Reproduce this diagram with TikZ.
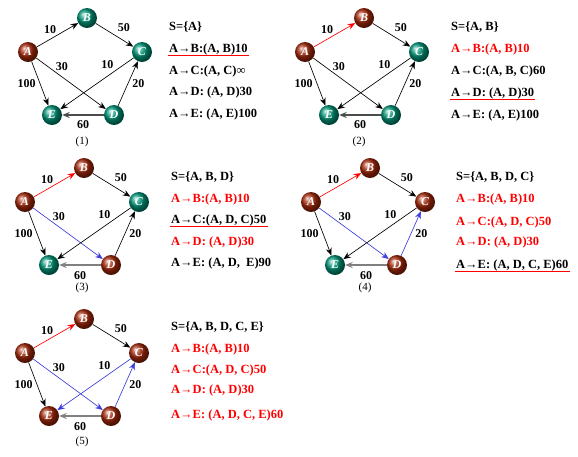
\documentclass[tikz,border=0pt]{standalone}
\usepackage{fontspec}
\setmainfont{Liberation Serif}
\usetikzlibrary{arrows.meta,shadings}
\definecolor{dijkTeal}{RGB}{0,150,120}
\definecolor{dijkRust}{RGB}{165,40,10}
\definecolor{dijkRed}{RGB}{255,0,0}
\definecolor{dijkBlue}{RGB}{60,60,220}
\colorlet{donegray}{black!50}

\begin{document}
\begin{tikzpicture}[x=1pt,y=-1pt,
  vtx/.style={circle,minimum size=20pt,inner sep=0pt,text=white,font=\fontsize{12}{12}\selectfont\bfseries\itshape},
  open/.style={vtx,shading=ball,ball color=dijkTeal},
  done/.style={vtx,shading=ball,ball color=dijkRust},
  edge/.style={-{Stealth[length=7.5pt,width=6pt,inset=2.5pt]},line width=0.65pt},
  redge/.style={edge,dijkRed},
  bedge/.style={edge,dijkBlue},
  gedge/.style={edge,donegray,line width=2.2pt},
  lbl/.style={inner sep=1pt,text=black,font=\fontsize{12}{12}\selectfont\bfseries},
  txt/.style={anchor=west,inner sep=1pt,font=\fontsize{12.5}{14}\selectfont\bfseries},
  hot/.style={txt,text=dijkRed},
  uline/.style={dijkRed,line width=0.8pt},
  caption/.style={font=\fontsize{11}{12}\selectfont}
]
\useasboundingbox (0,0) rectangle (578,456);

% (1)
\begin{scope}[shift={(28,52)}]
\node[done] (a1) at (0,0) {A};
\node[open] (b1) at (59,-34) {B};
\node[open] (c1) at (114,0) {C};
\node[open] (e1) at (24,63) {E};
\node[open] (d1) at (86,63) {D};
\draw[edge] (a1) -- node[lbl,above left] {10} (b1);
\draw[edge] (b1) -- node[lbl,above right=2pt] {50} (c1);
\draw[edge] (a1) -- node[lbl,pos=0.37,above=5pt] {30} (d1);
\draw[edge] (c1) -- node[lbl,pos=0.36,above=6pt] {10} (e1);
\draw[edge] (a1) -- node[lbl,left=3pt] {100} (e1);
\draw[edge] (d1) -- node[lbl,right=3pt] {20} (c1);
\draw[edge,black!70,line width=1.6pt] (d1) -- node[lbl,below=4pt] {60} (e1);
\node[txt] (s1) at (140,-25) {S=\{A\}};
\node[txt] (ab1) at (140,-3) {A→B:(A, B)10};
\node[txt] (ac1) at (140,19) {A→C:(A, C)∞};
\node[txt] (ad1) at (140,40) {A→D: (A, D)30};
\node[txt] (ae1) at (140,62) {A→E: (A, E)100};
\draw[uline] (ab1.south west) -- (ab1.south east);
\node[caption] (n1) at (54,90) {(1)};
\end{scope}

% (2)
\begin{scope}[shift={(305,52)}]
\node[done] (a2) at (0,0) {A};
\node[done] (b2) at (59,-34) {B};
\node[open] (c2) at (114,0) {C};
\node[open] (e2) at (24,63) {E};
\node[open] (d2) at (86,63) {D};
\draw[redge] (a2) -- node[lbl,above left] {10} (b2);
\draw[edge] (b2) -- node[lbl,above right=2pt] {50} (c2);
\draw[edge] (a2) -- node[lbl,pos=0.37,above=5pt] {30} (d2);
\draw[edge] (c2) -- node[lbl,pos=0.36,above=6pt] {10} (e2);
\draw[edge] (a2) -- node[lbl,left=3pt] {100} (e2);
\draw[edge] (d2) -- node[lbl,right=3pt] {20} (c2);
\draw[edge,black!70,line width=1.6pt] (d2) -- node[lbl,below=4pt] {60} (e2);
\node[txt] (s2) at (145,-25) {S=\{A, B\}};
\node[hot] (ab2) at (145,-3) {A→B:(A, B)10};
\node[txt] (ac2) at (145,19) {A→C:(A, B, C)60};
\node[txt] (ad2) at (145,41) {A→D: (A, D)30};
\node[txt] (ae2) at (145,63) {A→E: (A, E)100};
\draw[uline] (ad2.south west) -- (ad2.south east);
\node[caption] (n2) at (54,90) {(2)};
\end{scope}

% (3)
\begin{scope}[shift={(25,202)}]
\node[done] (a3) at (0,0) {A};
\node[done] (b3) at (59,-34) {B};
\node[open] (c3) at (114,0) {C};
\node[open] (e3) at (24,63) {E};
\node[done] (d3) at (86,63) {D};
\draw[redge] (a3) -- node[lbl,above left] {10} (b3);
\draw[edge] (b3) -- node[lbl,above right=2pt] {50} (c3);
\draw[bedge] (a3) -- node[lbl,pos=0.37,above=5pt] {30} (d3);
\draw[edge] (c3) -- node[lbl,pos=0.36,above=6pt] {10} (e3);
\draw[edge] (a3) -- node[lbl,left=3pt] {100} (e3);
\draw[edge] (d3) -- node[lbl,right=3pt] {20} (c3);
\draw[gedge] (d3) -- node[lbl,below=4pt] {60} (e3);
\node[txt] (s3) at (145,-25) {S=\{A, B, D\}};
\node[hot] (ab3) at (145,-3) {A→B:(A, B)10};
\node[txt] (ac3) at (145,18) {A→C:(A, D, C)50};
\node[hot] (ad3) at (145,40) {A→D: (A, D)30};
\node[txt] (ae3) at (145,61) {A→E: (A, D,\ \ E)90};
\draw[uline] (ac3.south west) -- (ac3.south east);
\node[caption] (n3) at (57,86) {(3)};
\end{scope}

% (4)
\begin{scope}[shift={(311,202)}]
\node[done] (a4) at (0,0) {A};
\node[done] (b4) at (59,-34) {B};
\node[done] (c4) at (114,0) {C};
\node[open] (e4) at (24,63) {E};
\node[done] (d4) at (86,63) {D};
\draw[redge] (a4) -- node[lbl,above left] {10} (b4);
\draw[edge] (b4) -- node[lbl,above right=2pt] {50} (c4);
\draw[bedge] (a4) -- node[lbl,pos=0.37,above=5pt] {30} (d4);
\draw[edge] (c4) -- node[lbl,pos=0.36,above=6pt] {10} (e4);
\draw[edge] (a4) -- node[lbl,left=3pt] {100} (e4);
\draw[bedge] (d4) -- node[lbl,right=3pt] {20} (c4);
\draw[gedge] (d4) -- node[lbl,below=4pt] {60} (e4);
\node[txt] (s4) at (144,-25) {S=\{A, B, D, C\}};
\node[hot] (ab4) at (144,-3) {A→B:(A, B)10};
\node[hot] (ac4) at (144,20) {A→C:(A, D, C)50};
\node[hot] (ad4) at (144,40) {A→D: (A, D)30};
\node[txt] (ae4) at (144,63) {A→E: (A, D, C, E)60};
\draw[uline] (ae4.south west) -- (ae4.south east);
\node[caption] (n4) at (54,86) {(4)};
\end{scope}

% (5)
\begin{scope}[shift={(25,353)}]
\node[done] (a5) at (0,0) {A};
\node[done] (b5) at (59,-34) {B};
\node[done] (c5) at (114,0) {C};
\node[done] (e5) at (24,63) {E};
\node[done] (d5) at (86,63) {D};
\draw[redge] (a5) -- node[lbl,above left] {10} (b5);
\draw[edge] (b5) -- node[lbl,above right=2pt] {50} (c5);
\draw[bedge] (a5) -- node[lbl,pos=0.37,above=5pt] {30} (d5);
\draw[bedge] (c5) -- node[lbl,pos=0.36,above=6pt] {10} (e5);
\draw[edge] (a5) -- node[lbl,left=3pt] {100} (e5);
\draw[bedge] (d5) -- node[lbl,right=3pt] {20} (c5);
\draw[gedge] (d5) -- node[lbl,below=4pt] {60} (e5);
\node[txt] (s5) at (145,-26) {S=\{A, B, D, C, E\}};
\node[hot] (ab5) at (145,-4) {A→B:(A, B)10};
\node[hot] (ac5) at (145,17) {A→C:(A, D, C)50};
\node[hot] (ad5) at (145,37) {A→D: (A, D)30};
\node[hot] (ae5) at (145,62) {A→E: (A, D, C, E)60};
\node[caption] (n5) at (57,89) {(5)};
\end{scope}
\end{tikzpicture}
\end{document}
